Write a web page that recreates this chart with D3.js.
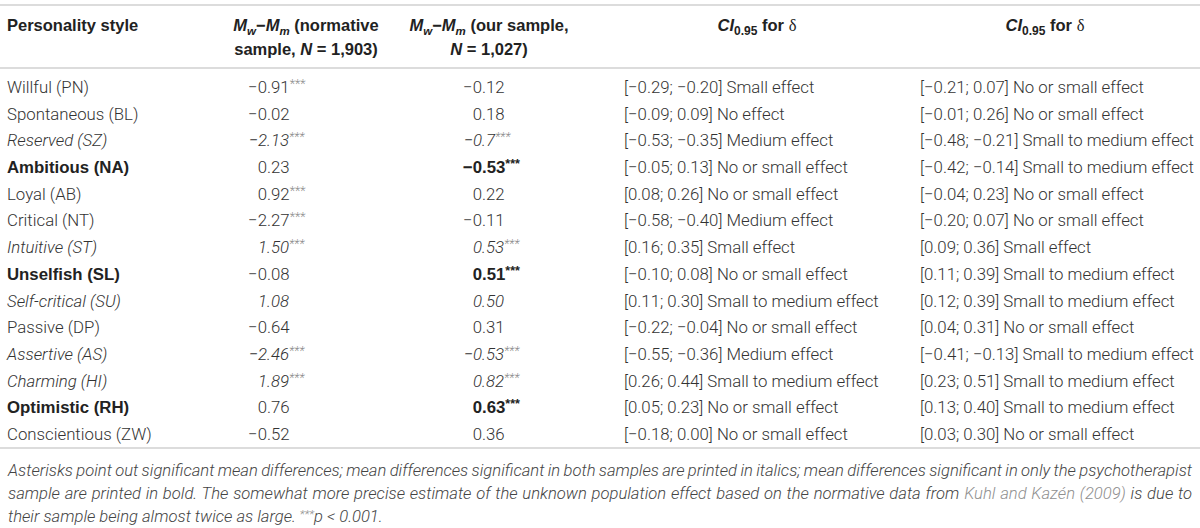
<!DOCTYPE html>
<html>
<head>
<meta charset="utf-8">
<script src="https://cdn.jsdelivr.net/npm/d3@7/dist/d3.min.js"></script>
<style>
  body { margin: 0; background: #fff; }
  svg { display: block; }
  .cell { font-family: Roboto, "Liberation Sans", sans-serif; font-weight: 300; font-size: 16.8px; fill: #333; }
  .head { font-family: "Liberation Sans", Arial, sans-serif; font-weight: 700; font-size: 16.5px; fill: #222; }
  .note { font-family: Roboto, "Liberation Sans", sans-serif; font-weight: 300; font-style: italic; font-size: 16.6px; fill: #444; }
</style>
</head>
<body>
<svg id="chart" width="1200" height="528"></svg>
<script>
// table values
const styles = ["Willful (PN)", "Spontaneous (BL)", "Reserved (SZ)", "Ambitious (NA)", "Loyal (AB)",
  "Critical (NT)", "Intuitive (ST)", "Unselfish (SL)", "Self-critical (SU)", "Passive (DP)",
  "Assertive (AS)", "Charming (HI)", "Optimistic (RH)", "Conscientious (ZW)"];
const rowStyle = ["normal", "normal", "italic", "bold", "normal", "normal", "italic", "bold",
  "italic", "normal", "italic", "italic", "bold", "normal"];
const normDiff = ["-0.91", "-0.02", "-2.13", "0.23", "0.92", "-2.27", "1.50", "-0.08",
  "1.08", "-0.64", "-2.46", "1.89", "0.76", "-0.52"];
const normSig = [1, 0, 1, 0, 1, 1, 1, 0, 0, 0, 1, 1, 0, 0];
const sampleDiff = ["-0.12", "0.18", "-0.7", "-0.53", "0.22", "-0.11", "0.53", "0.51",
  "0.50", "0.31", "-0.53", "0.82", "0.63", "0.36"];
const sampleSig = [0, 0, 1, 1, 0, 0, 1, 1, 0, 0, 1, 1, 1, 0];
const ciNorm = [[-0.29, -0.20], [-0.09, 0.09], [-0.53, -0.35], [-0.05, 0.13], [0.08, 0.26],
  [-0.58, -0.40], [0.16, 0.35], [-0.10, 0.08], [0.11, 0.30], [-0.22, -0.04],
  [-0.55, -0.36], [0.26, 0.44], [0.05, 0.23], [-0.18, 0.00]];
const effNorm = ["Small effect", "No effect", "Medium effect", "No or small effect", "No or small effect",
  "Medium effect", "Small effect", "No or small effect", "Small to medium effect", "No or small effect",
  "Medium effect", "Small to medium effect", "No or small effect", "No or small effect"];
const ciSample = [[-0.21, 0.07], [-0.01, 0.26], [-0.48, -0.21], [-0.42, -0.14], [-0.04, 0.23],
  [-0.20, 0.07], [0.09, 0.36], [0.11, 0.39], [0.12, 0.39], [0.04, 0.31],
  [-0.41, -0.13], [0.23, 0.51], [0.13, 0.40], [0.03, 0.30]];
const effSample = ["No or small effect", "No or small effect", "Small to medium effect", "Small to medium effect",
  "No or small effect", "No or small effect", "Small effect", "Small to medium effect",
  "Small to medium effect", "No or small effect", "Small to medium effect", "Small to medium effect",
  "Small to medium effect", "No or small effect"];
const noteLines = [
  "Asterisks point out significant mean differences; mean differences significant in both samples are printed in italics; mean differences significant in only the psychotherapist",
  "sample are printed in bold. The somewhat more precise estimate of the unknown population effect based on the normative data from |Kuhl and Kazén (2009)| is due to",
  "their sample being almost twice as large. "
];

const svg = d3.select("#chart");
const W = 1200;
const fmt = d3.format(".2f");
const minus = s => s.replace("-", "\u2212");

const rowY = d3.scalePoint().domain(d3.range(styles.length)).range([93, 440]);
const colX = { name: 7, norm: 267, sample: 482, ciNorm: 624, ciSample: 920 };
const headX = { norm: 306, sample: 489, ciNorm: 757, ciSample: 1045 };

// rules
svg.selectAll("line.rule").data([5, 68, 448]).enter().append("line")
  .attr("class", "rule")
  .attr("x1", 0).attr("x2", W).attr("y1", d => d).attr("y2", d => d)
  .attr("stroke", "#dcdcdc").attr("stroke-width", 2);

// header
function mDiff(t) {
  t.append("tspan").style("font-style", "italic").text("M");
  t.append("tspan").style("font-style", "italic").attr("font-size", 11.5).attr("dy", 4).text("w");
  t.append("tspan").attr("dy", -4).text("\u2212");
  t.append("tspan").style("font-style", "italic").text("M");
  t.append("tspan").style("font-style", "italic").attr("font-size", 11.5).attr("dy", 4).text("m");
}
svg.append("text").attr("class", "head").attr("x", colX.name).attr("y", 31).text("Personality style");

let h = svg.append("text").attr("class", "head").attr("x", headX.norm).attr("y", 31).attr("text-anchor", "middle");
mDiff(h);
h.append("tspan").attr("dy", -4).text(" (normative");
h = svg.append("text").attr("class", "head").attr("x", headX.norm).attr("y", 55).attr("text-anchor", "middle");
h.append("tspan").text("sample, ");
h.append("tspan").style("font-style", "italic").text("N");
h.append("tspan").text(" = 1,903)");

h = svg.append("text").attr("class", "head").attr("x", headX.sample).attr("y", 31).attr("text-anchor", "middle");
mDiff(h);
h.append("tspan").attr("dy", -4).text(" (our sample,");
h = svg.append("text").attr("class", "head").attr("x", headX.sample).attr("y", 55).attr("text-anchor", "middle");
h.append("tspan").style("font-style", "italic").text("N");
h.append("tspan").text(" = 1,027)");

[headX.ciNorm, headX.ciSample].forEach(x => {
  const t = svg.append("text").attr("class", "head").attr("x", x).attr("y", 31).attr("text-anchor", "middle");
  t.append("tspan").style("font-style", "italic").text("CI");
  t.append("tspan").attr("font-size", 12).attr("dy", 4).text("0.95");
  t.append("tspan").attr("dy", -4).text(" for ");
  t.append("tspan").style("font-family", "'Liberation Serif', serif").style("font-weight", 400).text("\u03b4");
});

// body rows
const rows = svg.selectAll("g.row").data(styles).enter().append("g").attr("class", "row")
  .attr("transform", (d, i) => `translate(0,${rowY(i)})`);

function styleCell(sel, st, allowBold) {
  if (st === "italic") sel.style("font-style", "italic");
  if (st === "bold" && allowBold) {
    sel.style("font-family", "'Liberation Sans', Arial, sans-serif").style("font-weight", 700).style("fill", "#222");
  }
  return sel;
}

rows.append("text").attr("class", "cell").attr("x", colX.name)
  .each(function(d, i) { styleCell(d3.select(this), rowStyle[i], true); })
  .text(d => d);

function diffCell(g, x, val, sig, st, allowBold) {
  const s = minus(val);
  const k = s.indexOf(".");
  const a = g.append("text").attr("class", "cell").attr("x", x).attr("text-anchor", "end").text(s.slice(0, k));
  styleCell(a, st, allowBold);
  const b = g.append("text").attr("class", "cell").attr("x", x);
  styleCell(b, st, allowBold);
  b.append("tspan").text(s.slice(k));
  if (sig) {
    const bold = st === "bold" && allowBold;
    b.append("tspan").attr("dy", -5).attr("font-size", bold ? 12.5 : 12.5)
      .style("fill", bold ? "#222" : "#8c8c8c").text("***");
  }
}

rows.each(function(d, i) {
  const g = d3.select(this);
  diffCell(g, colX.norm, normDiff[i], normSig[i], rowStyle[i], false);
  diffCell(g, colX.sample, sampleDiff[i], sampleSig[i], rowStyle[i], true);
});

rows.append("text").attr("class", "cell").attr("x", colX.ciNorm)
  .text((d, i) => `[${fmt(ciNorm[i][0])}; ${fmt(ciNorm[i][1])}] ${effNorm[i]}`);
rows.append("text").attr("class", "cell").attr("x", colX.ciSample)
  .text((d, i) => `[${fmt(ciSample[i][0])}; ${fmt(ciSample[i][1])}] ${effSample[i]}`);

// footnote, first two lines justified
const noteY = [476, 499, 522];
noteLines.forEach((line, j) => {
  const t = svg.append("text").attr("class", "note").attr("x", 8).attr("y", noteY[j]);
  line.split("|").forEach((part, p) => {
    t.append("tspan").style("fill", p === 1 ? "#8f8f8f" : null).text(part);
  });
  if (j === 2) {
    t.append("tspan").style("fill", "#8c8c8c").attr("font-size", 11.5).attr("dy", -4.5).text("***");
    t.append("tspan").attr("dy", 4.5).text("p");
    t.append("tspan").text(" < 0.001.");
  }
  if (j < 2) {
    const natural = t.node().getComputedTextLength();
    const gaps = line.split(" ").length - 1;
    t.style("word-spacing", ((1192 - 8 - natural) / gaps) + "px");
  }
});
</script>
</body>
</html>
